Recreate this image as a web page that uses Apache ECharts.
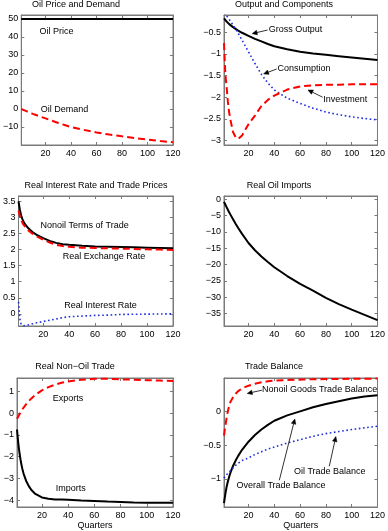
<!DOCTYPE html>
<html><head><meta charset="utf-8">
<script src="https://cdn.jsdelivr.net/npm/echarts@6/dist/echarts.min.js"></script>
<style>html,body{margin:0;padding:0;background:#fff}#c{width:388px;height:531px}</style>
</head><body><div id="c"></div><script>
// ---------- data ----------
const quarters = [1,2,3,4,5,6,8,10,12,15,20,25,30,35,40,50,60,70,80,90,100,110,120];
const xTicks = [20,40,60,80,100,120];

// Panel 1: Oil Price and Demand
const oilPrice  = [50,50,50,50,50,50,50,50,50,50,50,50,50,50,50,50,50,50,50,50,50,50,50];
const oilDemand = [0,-0.3,-0.6,-0.9,-1.2,-1.5,-2.1,-2.7,-3.2,-4.0,-5.2,-6.5,-7.8,-8.9,-10.0,-11.6,-13.0,-14.2,-15.2,-16.1,-17.0,-17.8,-18.5];
const ticks1 = [-10,0,10,20,30,40,50];

// Panel 2: Output and Components
const grossOutput = [-0.18,-0.22,-0.25,-0.28,-0.31,-0.34,-0.38,-0.42,-0.46,-0.51,-0.58,-0.65,-0.71,-0.77,-0.82,-0.89,-0.95,-0.99,-1.02,-1.05,-1.08,-1.11,-1.14];
const consumption = [-0.05,-0.08,-0.12,-0.16,-0.2,-0.24,-0.33,-0.42,-0.52,-0.68,-0.95,-1.22,-1.47,-1.67,-1.83,-2.02,-2.14,-2.25,-2.34,-2.40,-2.45,-2.49,-2.52];
const investment  = [-0.75,-1.45,-1.75,-2.1,-2.35,-2.52,-2.8,-2.92,-2.96,-2.88,-2.62,-2.42,-2.2,-2.06,-1.96,-1.82,-1.75,-1.72,-1.71,-1.71,-1.70,-1.70,-1.70];
const ticks2 = [-3,-2.5,-2,-1.5,-1,-0.5];

// Panel 3: Real Interest Rate and Trade Prices
const termsOfTrade = [3.5,3.25,3.07,2.95,2.86,2.79,2.69,2.61,2.54,2.46,2.36,2.27,2.21,2.17,2.15,2.12,2.10,2.09,2.08,2.07,2.06,2.05,2.04];
const exchangeRate = [3.22,3.05,2.93,2.84,2.77,2.71,2.62,2.55,2.49,2.41,2.31,2.22,2.15,2.11,2.09,2.06,2.05,2.04,2.03,2.02,2.01,2.0,1.99];
const interestRate = [0.37,-0.15,-0.33,-0.37,-0.37,-0.36,-0.35,-0.33,-0.31,-0.28,-0.24,-0.2,-0.16,-0.12,-0.09,-0.07,-0.05,-0.04,-0.02,-0.015,-0.01,-0.005,0.0];
const ticks3 = [0,0.5,1,1.5,2,2.5,3,3.5];

// Panel 4: Real Oil Imports
const oilImports = [-0.8,-1.6,-2.4,-3.2,-4.0,-4.7,-6.1,-7.5,-8.8,-10.6,-13.4,-15.6,-17.5,-19.2,-20.8,-23.5,-25.9,-28.0,-30.2,-32.1,-33.8,-35.4,-37.0];
const ticks4 = [-35,-30,-25,-20,-15,-10,-5,0];

// Panel 5: Real Non-Oil Trade
const exportsV = [-0.26,-0.15,-0.04,0.07,0.17,0.26,0.42,0.56,0.68,0.84,1.05,1.2,1.31,1.4,1.46,1.54,1.58,1.58,1.56,1.54,1.52,1.5,1.48];
const importsV = [-0.75,-1.4,-1.88,-2.25,-2.55,-2.78,-3.12,-3.36,-3.54,-3.72,-3.88,-3.94,-3.97,-3.98,-3.99,-4.02,-4.04,-4.07,-4.09,-4.11,-4.12,-4.13,-4.13];
const ticks5 = [-4,-3,-2,-1,0,1];

// Panel 6: Trade Balance
const nonoilBalance  = [-0.36,-0.22,-0.1,0.0,0.08,0.14,0.21,0.26,0.3,0.34,0.38,0.41,0.43,0.445,0.455,0.465,0.47,0.475,0.478,0.48,0.482,0.484,0.485];
const overallBalance = [-1.36,-1.23,-1.12,-1.04,-0.97,-0.91,-0.81,-0.73,-0.66,-0.57,-0.45,-0.35,-0.27,-0.2,-0.14,-0.06,0.0,0.06,0.11,0.15,0.19,0.22,0.24];
const oilBalance     = [-0.99,-0.96,-0.94,-0.92,-0.9,-0.88,-0.84,-0.8,-0.77,-0.73,-0.69,-0.64,-0.6,-0.56,-0.53,-0.47,-0.42,-0.37,-0.33,-0.3,-0.27,-0.245,-0.22];
const ticks6 = [-1,-0.5,0];

const titles = ['Oil Price and Demand','Output and Components','Real Interest Rate and Trade Prices','Real Oil Imports','Real Non\u2212Oil Trade','Trade Balance'];

// ---------- layout ----------
const FONT = 'Liberation Sans, Arial, Helvetica, sans-serif';
const grids = [
  {left:17, top:15, width:156, height:130},
  {left:224, top:15, width:156, height:130},
  {left:17, top:196, width:156, height:130},
  {left:224, top:196, width:156, height:130},
  {left:17, top:378, width:156, height:130},
  {left:224, top:378, width:156, height:130}
];
const yRanges = [[-20,52.2],[-3.1,-0.1],[-0.38,3.67],[-38.8,1.0],[-4.32,1.62],[-1.418,0.494]];
const yTicks = [ticks1,ticks2,ticks3,ticks4,ticks5,ticks6];
const titlePos = [[76,5],[284,5],[96,186],[279,186],[75,367],[274,367]];

const AXC = '#7a7a7a';
const fmt = v => String(+v.toFixed(2)).replace('-', '\u2212');

const xAxes = [], yAxes = [];
grids.forEach((g, i) => {
  const isBottom = i >= 4;
  xAxes.push({type:'value', gridIndex:i, position:'bottom', min:1, max:120,
    name: isBottom ? 'Quarters' : '', nameLocation:'middle', nameGap:14,
    nameTextStyle:{color:'#000', fontSize:9, fontFamily:FONT},
    axisLine:{show:true, onZero:false, lineStyle:{color:AXC, width:1}},
    axisTick:{show:true, inside:true, length:3, customValues:xTicks, lineStyle:{color:AXC}},
    axisLabel:{show:true, customValues:xTicks, color:'#000', fontSize:9, fontFamily:FONT, margin:4, formatter:fmt},
    splitLine:{show:false}});
  xAxes.push({type:'value', gridIndex:i, position:'top', min:1, max:120,
    axisLine:{show:true, onZero:false, lineStyle:{color:AXC, width:1}},
    axisTick:{show:true, inside:true, length:3, customValues:xTicks, lineStyle:{color:AXC}},
    axisLabel:{show:false}, splitLine:{show:false}});
  yAxes.push({type:'value', gridIndex:i, position:'left', min:yRanges[i][0], max:yRanges[i][1],
    axisLine:{show:true, onZero:false, lineStyle:{color:AXC, width:1}},
    axisTick:{show:true, inside:true, length:3, customValues:yTicks[i], lineStyle:{color:AXC}},
    axisLabel:{show:true, customValues:yTicks[i], color:'#000', fontSize:9, fontFamily:FONT, margin:3, formatter:fmt},
    splitLine:{show:false}});
  yAxes.push({type:'value', gridIndex:i, position:'right', min:yRanges[i][0], max:yRanges[i][1],
    axisLine:{show:true, onZero:false, lineStyle:{color:AXC, width:1}},
    axisTick:{show:true, inside:true, length:3, customValues:yTicks[i], lineStyle:{color:AXC}},
    axisLabel:{show:false}, splitLine:{show:false}});
});

const SOLID = {color:'#000', width:2, type:'solid'};
const DASH = {color:'#ff0000', width:2, type:[7,4]};
const DOT = {color:'#1f2fe0', width:1.6, type:[1.6,2.6]};

const pairs = arr => quarters.map((q, k) => [q, arr[k]]);
const mk = (i, arr, style, name) => ({type:'line', name, xAxisIndex:2*i, yAxisIndex:2*i,
  data:pairs(arr), showSymbol:false, symbol:'none', lineStyle:style, clip:true, silent:true, animation:false, z:3});

const series = [
  mk(0, oilPrice, SOLID, 'Oil Price'),
  mk(0, oilDemand, DASH, 'Oil Demand'),
  mk(1, grossOutput, SOLID, 'Gross Output'),
  mk(1, consumption, DOT, 'Consumption'),
  mk(1, investment, DASH, 'Investment'),
  mk(2, termsOfTrade, SOLID, 'Nonoil Terms of Trade'),
  mk(2, exchangeRate, DASH, 'Real Exchange Rate'),
  mk(2, interestRate, DOT, 'Real Interest Rate'),
  mk(3, oilImports, SOLID, 'Real Oil Imports'),
  mk(4, exportsV, DASH, 'Exports'),
  mk(4, importsV, SOLID, 'Imports'),
  mk(5, nonoilBalance, DASH, 'Nonoil Goods Trade Balance'),
  mk(5, overallBalance, SOLID, 'Overall Trade Balance'),
  mk(5, oilBalance, DOT, 'Oil Trade Balance')
];
// first series index of each panel (for coordinate conversion)
const panelSeries = [0, 2, 5, 8, 9, 11];

// annotations in data coordinates: [panel, text, q, v, arrowTail(q,v), arrowHead(q,v)]
const labels = [
  [0, 'Oil Price', 15.3, 43.3],
  [0, 'Oil Demand', 16.3, -0.2],
  [1, 'Gross Output', 35.6, -0.424],
  [1, 'Consumption', 42.4, -1.33],
  [1, 'Investment', 78.0, -2.04],
  [2, 'Nonoil Terms of Trade', 18.0, 2.75],
  [2, 'Real Exchange Rate', 35.1, 1.79],
  [2, 'Real Interest Rate', 36.3, 0.26],
  [4, 'Exports', 28.2, 0.69],
  [4, 'Imports', 30.5, -3.47],
  [5, 'Nonoil Goods Trade Balance', 30.4, 0.318],
  [5, 'Overall Trade Balance', 10.6, -1.094],
  [5, 'Oil Trade Balance', 55.2, -0.888]
];
const arrows = [
  [1, 34.8, -0.447, 22.8, -0.53],
  [1, 41.9, -1.346, 31.7, -1.46],
  [1, 77.5, -1.998, 66.1, -1.83],
  [5, 30.4, 0.313, 19.0, 0.265],
  [5, 43.9, -1.021, 55.9, -0.113],
  [5, 82.6, -0.815, 87.7, -0.374]
];

const chart = echarts.init(document.getElementById('c'), null, {renderer:'canvas', width:388, height:531});
chart.setOption({
  animation:false,
  backgroundColor:'#fff',
  grid: grids.map(g => Object.assign({show:true, borderColor:AXC, borderWidth:1, backgroundColor:'#fff', containLabel:false}, g)),
  xAxis: xAxes,
  yAxis: yAxes,
  series
});

const gfx = [];
titles.forEach((t, i) => {
  gfx.push({type:'text', x:titlePos[i][0], y:titlePos[i][1], z:10,
    style:{text:t, fill:'#000', font:'9px ' + FONT, textAlign:'center', textVerticalAlign:'middle'}});
});
const toPx = (panel, q, v) => chart.convertToPixel({seriesIndex:panelSeries[panel]}, [q, v]);
labels.forEach(([p, t, q, v]) => {
  const [x, y] = toPx(p, q, v);
  gfx.push({type:'text', x, y, z:10,
    style:{text:t, fill:'#000', font:'9px ' + FONT, textAlign:'left', textVerticalAlign:'middle'}});
});
arrows.forEach(([p, q1, v1, q2, v2]) => {
  const [x1, y1] = toPx(p, q1, v1);
  const [x2, y2] = toPx(p, q2, v2);
  const dx = x2 - x1, dy = y2 - y1, L = Math.hypot(dx, dy) || 1;
  const ux = dx / L, uy = dy / L;
  const hl = 5, hw = 2.3;
  const bx = x2 - ux * hl, by = y2 - uy * hl;
  gfx.push({type:'line', z:10, shape:{x1, y1, x2:bx, y2:by}, style:{stroke:'#000', lineWidth:0.8}});
  gfx.push({type:'polygon', z:10, shape:{points:[[x2, y2], [bx - uy * hw, by + ux * hw], [bx + uy * hw, by - ux * hw]]},
    style:{fill:'#000', stroke:'#000', lineWidth:0.5}});
});
chart.setOption({graphic: gfx});
</script></body></html>
